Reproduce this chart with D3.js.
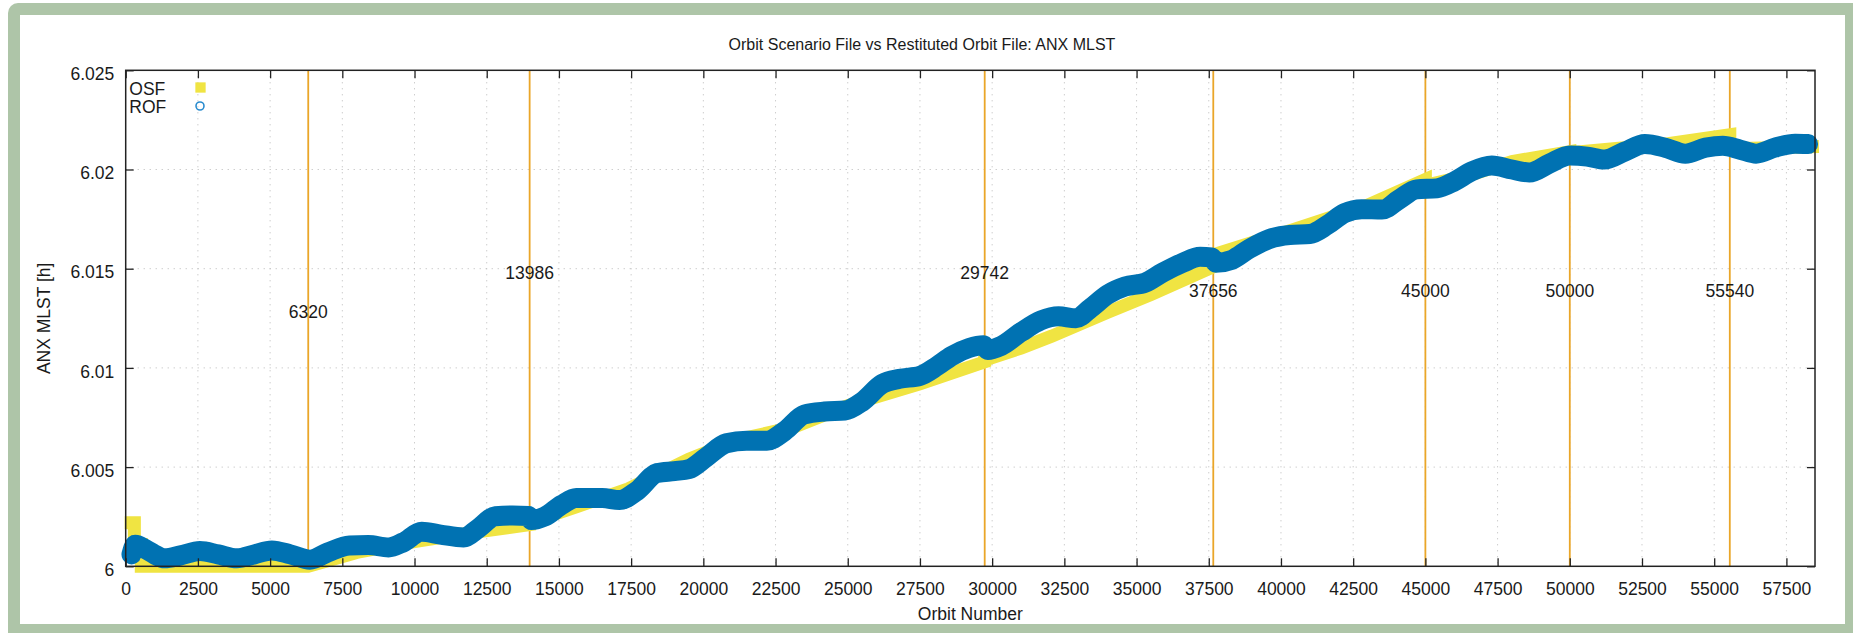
<!DOCTYPE html>
<html>
<head>
<meta charset="utf-8">
<script src="https://cdn.jsdelivr.net/npm/d3@7"></script>
<style>
	body { margin: 0; background: #fff; }
	svg text { font-family: "Liberation Sans", Arial, Helvetica, sans-serif; fill: #1a1a1a; }
</style>
</head>
<body>
<div id="chart"></div>
<script>
// orbits where the scenario changes, and where their labels sit (ANX MLST [h])
const markerOrbits = [6320, 13986, 29742, 37656, 45000, 50000, 55540];
const markerLabelY = [6.0128, 6.0148, 6.0148, 6.0139, 6.0139, 6.0139, 6.0139];

const xTicks = [0, 2500, 5000, 7500, 10000, 12500, 15000, 17500, 20000, 22500, 25000,
	27500, 30000, 32500, 35000, 37500, 40000, 42500, 45000, 47500, 50000, 52500, 55000, 57500];
const yTicks = [6, 6.005, 6.01, 6.015, 6.02, 6.025];
const xMax = 58490;

// Orbit Scenario File (OSF)
const osfOrbit = [190, 300, 300, 540, 540, 6320,
	8000, 10000, 12000, 13986,
	13986, 15600, 17400, 19500, 21240, 23100, 25000, 27500, 29742,
	29742, 31000, 32060, 34000, 35500, 37656,
	37656, 40500, 43000, 45000,
	45000, 46500, 48000, 50000,
	50000, 53400, 55540,
	55540, 57000, 58400];
const osfMlst = [6.0022, 6.0022, 6.0011, 6.0011, 6.0000, 6.0000,
	6.0007, 6.00125, 6.0017, 6.0021,
	6.0022, 6.0030, 6.0039, 6.0054, 6.0064, 6.0070, 6.0081, 6.0092, 6.0103,
	6.0104, 6.0110, 6.0116, 6.0128, 6.0137, 6.0151,
	6.0157, 6.0170, 6.0182, 6.0195,
	6.0192, 6.0197, 6.0204, 6.0209,
	6.02085, 6.0213, 6.02175,
	6.02105, 6.0211, 6.02115];

// Restituted Orbit File (ROF)
const rofOrbit = [200, 330, 700, 1000, 1350, 1900, 2570, 3200, 3850, 4450, 5060, 5700, 6380,
	7000, 7750, 8400, 9100, 9600, 10250, 10900, 11700, 12200, 12800, 13400, 13950,
	14050, 14500, 15100, 15600, 16500, 17100, 17700, 18400, 19000, 19500, 20100, 20800,
	21500, 22200, 22800, 23500, 24200, 24900, 25500, 26200, 26800, 27500, 28100, 28600,
	29200, 29700, 29850, 30300, 31000, 31700, 32300, 32900, 33400, 34000, 34600, 35300,
	35900, 36600, 37200, 37600, 37750, 38300, 38900, 39600, 40300, 41000, 41600, 42200,
	42800, 43500, 44100, 44700, 45400, 46000, 46600, 47300, 48000, 48600, 49300, 50000,
	50600, 51200, 51900, 52600, 53300, 54000, 54700, 55300, 55900, 56450, 57100, 57800, 58250];
const rofMlst = [6.0006, 6.00108, 6.00085, 6.0006, 6.0004, 6.00055, 6.00077, 6.0006, 6.0004, 6.0006, 6.0008, 6.0006, 6.00033,
	6.0007, 6.00105, 6.00107, 6.00095, 6.0012, 6.00174, 6.0016, 6.00145, 6.0019, 6.00252, 6.00256, 6.00254,
	6.00233, 6.0025, 6.0031, 6.00344, 6.00344, 6.00334, 6.0038, 6.0047, 6.0048, 6.0049, 6.0055, 6.0062,
	6.00633, 6.00633, 6.0068, 6.00765, 6.0078, 6.00785, 6.0083, 6.0092, 6.00945, 6.0096, 6.0101, 6.0106,
	6.0110, 6.01114, 6.0109, 6.0111, 6.0118, 6.0124, 6.0126, 6.0125, 6.0130, 6.0137, 6.0141, 6.0143,
	6.0148, 6.0153, 6.0156, 6.01557, 6.0153, 6.01545, 6.0160, 6.0165, 6.0167, 6.01675, 6.0172, 6.0178,
	6.0180, 6.01798, 6.0185, 6.0190, 6.01905, 6.0194, 6.0199, 6.0202, 6.0200, 6.01985, 6.0203, 6.0207,
	6.02065, 6.0205, 6.0209, 6.02128, 6.0211, 6.0208, 6.0211, 6.0212, 6.0210, 6.0208, 6.0211, 6.0213, 6.02128];

const width = 1853;
const height = 633;
const margin = { top: 70.3, right: 38, bottom: 66.7, left: 125.7 };
const fontSize = 17.5;

const svg = d3.select("#chart")
	.append("svg")
	.attr("width", width)
	.attr("height", height);

// green frame around the picture
svg.append("rect")
	.attr("x", 8).attr("y", 3)
	.attr("width", width + 20).attr("height", height + 20)
	.attr("rx", 10)
	.attr("fill", "#aec5a8");
svg.append("rect")
	.attr("x", 20).attr("y", 15)
	.attr("width", 1825).attr("height", 609)
	.attr("fill", "#fff");

const xScale = d3.scaleLinear()
	.domain([0, xMax])
	.range([margin.left, width - margin.right]);
const yScale = d3.scaleLinear()
	.domain([yTicks[0], yTicks[yTicks.length - 1]])
	.range([height - margin.bottom, margin.top]);

const plotTop = margin.top, plotBottom = height - margin.bottom;
const plotLeft = margin.left, plotRight = width - margin.right;

// dotted grid
const grid = svg.append("g")
	.attr("stroke", "#b8b8b8")
	.attr("stroke-width", 1)
	.attr("stroke-dasharray", "1,5");
grid.selectAll(".gx")
	.data(xTicks.filter((d) => d > 0))
	.enter()
	.append("line")
	.attr("x1", (d) => xScale(d)).attr("x2", (d) => xScale(d))
	.attr("y1", plotTop).attr("y2", plotBottom);
grid.selectAll(".gy")
	.data(yTicks.slice(1, -1))
	.enter()
	.append("line")
	.attr("x1", plotLeft).attr("x2", plotRight)
	.attr("y1", (d) => yScale(d)).attr("y2", (d) => yScale(d));

// scenario change lines
svg.append("g")
	.attr("stroke", "#eaa629")
	.attr("stroke-width", 1.8)
	.selectAll("line")
	.data(markerOrbits)
	.enter()
	.append("line")
	.attr("x1", (d) => xScale(d)).attr("x2", (d) => xScale(d))
	.attr("y1", plotTop).attr("y2", plotBottom);

const osf = osfOrbit.map((o, i) => ({ orbit: o, mlst: osfMlst[i] }));
const rof = rofOrbit.map((o, i) => ({ orbit: o, mlst: rofMlst[i] }));

svg.append("path")
	.datum(osf)
	.attr("fill", "none")
	.attr("stroke", "#f0e442")
	.attr("stroke-width", 13)
	.attr("stroke-linecap", "square")
	.attr("stroke-linejoin", "miter")
	.attr("d", d3.line().x((d) => xScale(d.orbit)).y((d) => yScale(d.mlst)));

svg.append("path")
	.datum(rof)
	.attr("fill", "none")
	.attr("stroke", "#0072b2")
	.attr("stroke-width", 20)
	.attr("stroke-linecap", "round")
	.attr("stroke-linejoin", "round")
	.attr("d", d3.line()
		.curve(d3.curveMonotoneX)
		.x((d) => xScale(d.orbit))
		.y((d) => yScale(d.mlst)));

// axes, ticks pointing inward on all four sides
const styleAxis = (g) => {
	g.select(".domain").remove();
	g.selectAll(".tick line").attr("stroke", "#222").attr("stroke-width", 1.3);
	g.attr("font-size", fontSize).attr("font-family", null);
	g.selectAll(".tick text").attr("fill", "#1a1a1a");
};

svg.append("g")
	.attr("transform", `translate(0,${plotBottom})`)
	.call(d3.axisBottom(xScale).tickValues(xTicks).tickSize(-8).tickSizeOuter(0)
		.tickPadding(16).tickFormat(d3.format("d")))
	.call(styleAxis);
svg.append("g")
	.attr("transform", `translate(0,${plotTop})`)
	.call(d3.axisTop(xScale).tickValues(xTicks).tickSize(-8).tickSizeOuter(0).tickFormat(""))
	.call(styleAxis);
svg.append("g")
	.attr("transform", `translate(${plotLeft},0)`)
	.call(d3.axisLeft(yScale).tickValues(yTicks).tickSize(-8).tickSizeOuter(0)
		.tickPadding(11.4).tickFormat((d) => String(+d.toFixed(3))))
	.call(styleAxis)
	.selectAll(".tick text")
	.attr("dy", "0.52em");
svg.append("g")
	.attr("transform", `translate(${plotRight},0)`)
	.call(d3.axisRight(yScale).tickValues(yTicks).tickSize(-8).tickSizeOuter(0).tickFormat(""))
	.call(styleAxis);

svg.append("rect")
	.attr("x", plotLeft).attr("y", plotTop)
	.attr("width", plotRight - plotLeft).attr("height", plotBottom - plotTop)
	.attr("fill", "none")
	.attr("stroke", "#222")
	.attr("stroke-width", 1.5);

// labels on the scenario change lines
svg.append("g")
	.attr("font-size", fontSize)
	.attr("text-anchor", "middle")
	.selectAll("text")
	.data(markerOrbits)
	.enter()
	.append("text")
	.attr("x", (d) => xScale(d))
	.attr("y", (d, i) => yScale(markerLabelY[i]))
	.attr("dy", "0.35em")
	.text((d) => d);

// titles
svg.append("text")
	.attr("x", 922).attr("y", 50)
	.attr("text-anchor", "middle")
	.attr("font-size", 16)
	.text("Orbit Scenario File vs Restituted Orbit File: ANX MLST");
svg.append("text")
	.attr("x", (plotLeft + plotRight) / 2).attr("y", 620)
	.attr("text-anchor", "middle")
	.attr("font-size", fontSize)
	.text("Orbit Number");
svg.append("text")
	.attr("transform", `translate(50,${(plotTop + plotBottom) / 2}) rotate(-90)`)
	.attr("text-anchor", "middle")
	.attr("font-size", fontSize)
	.text("ANX MLST [h]");

// key
const key = svg.append("g").attr("font-size", fontSize);
key.append("text").attr("x", 129.3).attr("y", 95).text("OSF");
key.append("text").attr("x", 129.3).attr("y", 113.3).text("ROF");
key.append("path")
	.attr("transform", "translate(200.5,87.5)")
	.attr("d", d3.symbol(d3.symbolSquare, 106)())
	.attr("fill", "#f0e442");
key.append("path")
	.attr("transform", "translate(200,106)")
	.attr("d", d3.symbol(d3.symbolCircle, 50)())
	.attr("fill", "none")
	.attr("stroke", "#2a8ccf")
	.attr("stroke-width", 1.6);
</script>
</body>
</html>
